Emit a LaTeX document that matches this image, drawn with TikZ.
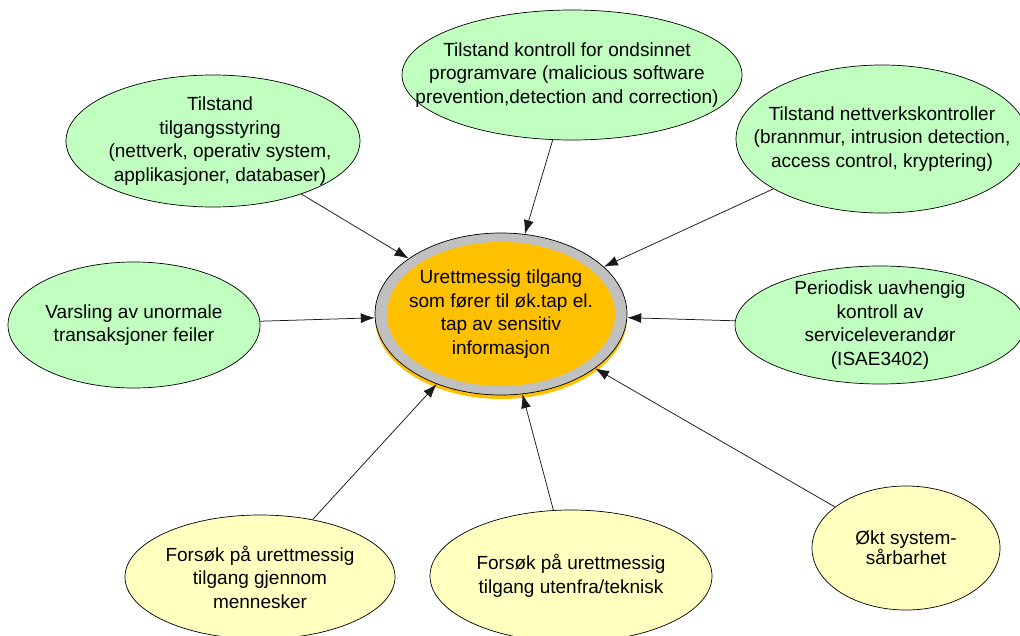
\documentclass[tikz,border=0pt]{standalone}
\usepackage{fontspec}
\setmainfont{Liberation Sans}
\usepackage{xcolor}
\usepackage{tikz}
\usetikzlibrary{arrows.meta,shapes.geometric,shadows}

\definecolor{ovalgreen}{RGB}{192,255,192}
\definecolor{ovalyellow}{RGB}{255,255,192}
\definecolor{hubfill}{RGB}{255,192,0}
\definecolor{hubring}{RGB}{192,192,192}

\begin{document}
\begin{tikzpicture}[x=1pt,y=-1pt,
  oval/.style={ellipse, draw=black, line width=0.7pt, inner sep=0pt},
  tiltak/.style={oval, fill=ovalgreen},
  trussel/.style={oval, fill=ovalyellow},
  txt/.style={align=center, inner sep=0pt, font=\fontsize{19}{23.5}\selectfont},
  pil/.style={draw=black!90, line width=0.75pt, -{Latex[length=14pt,width=10pt]}}]
\useasboundingbox (0,0) rectangle (1020,636);
% centre: grey ring round orange core, orange shadow below
\node[oval, fill=hubring, minimum width=252pt, minimum height=162pt,
  drop shadow={fill=hubfill, opacity=1, shadow xshift=0pt, shadow yshift=-4pt},
  path picture={\fill[hubfill] (path picture bounding box.center) ellipse [x radius=114pt, y radius=72pt];},
  label={[txt]center:{Urettmessig tilgang\\som fører til øk.tap el.\\tap av sensitiv\\informasjon}}]
  (hub) at (501, 314) {};
% controls (green), upper half and sides
\node[tiltak, minimum width=294pt, minimum height=132pt,
  label={[txt, xshift=7pt]center:{Tilstand\\tilgangsstyring\\(nettverk, operativ system,\\applikasjoner, databaser)}}]
  (tilgang) at (213, 141) {};
\node[tiltak, minimum width=340pt, minimum height=130pt,
  label={[txt, xshift=-5pt]center:{Tilstand kontroll for ondsinnet\\programvare (malicious software\\prevention,detection and correction)}}]
  (kontroll) at (572, 75) {};
\node[tiltak, minimum width=292pt, minimum height=148pt,
  label={[txt]center:{Tilstand nettverkskontroller\\(brannmur, intrusion detection,\\access control, kryptering)}}]
  (nettverk) at (882, 139) {};
\node[tiltak, minimum width=252pt, minimum height=126pt,
  label={[txt]center:{Varsling av unormale\\transaksjoner feiler}}]
  (varsling) at (134, 325) {};
\node[tiltak, minimum width=290pt, minimum height=118pt,
  label={[txt]center:{Periodisk uavhengig\\kontroll av\\serviceleverandør\\(ISAE3402)}}]
  (periodisk) at (880, 325) {};
% threats (yellow), bottom row
\node[trussel, minimum width=270pt, minimum height=124pt,
  label={[txt]center:{Forsøk på urettmessig\\tilgang gjennom\\mennesker}}]
  (menneske) at (260, 577) {};
\node[trussel, minimum width=282pt, minimum height=132pt,
  label={[txt]center:{Forsøk på urettmessig\\tilgang utenfra/teknisk}}]
  (teknisk) at (571, 576) {};
\node[trussel, minimum width=188pt, minimum height=124pt,
  label={[txt, font=\fontsize{19}{18.5}\selectfont]center:{Økt system-\\sårbarhet}}]
  (saarbar) at (906, 548) {};
% everything points at the centre
\foreach \n in {tilgang,kontroll,nettverk,varsling,periodisk,menneske,teknisk,saarbar}{
  \draw[pil] (\n) -- (hub);
}
\end{tikzpicture}
\end{document}
